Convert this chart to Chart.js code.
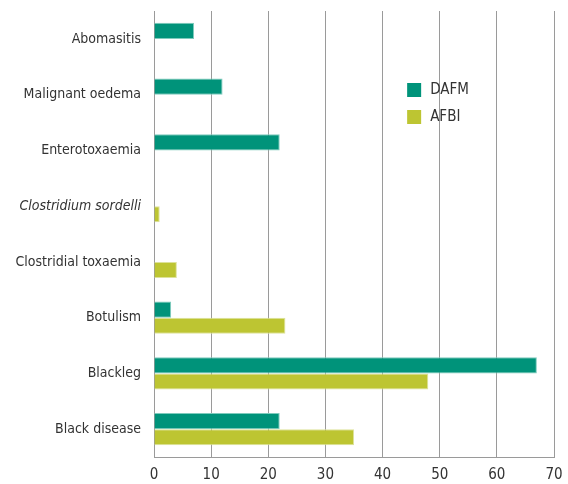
<!DOCTYPE html>
<html><head><meta charset="utf-8">
<script src="https://cdn.jsdelivr.net/npm/chart.js@4/dist/chart.umd.min.js"></script>
<style>html,body{margin:0;padding:0;background:#fff}canvas{display:block}</style>
</head><body>
<canvas id="c" width="568" height="484"></canvas>
<script>
const categories = ["Abomasitis","Malignant oedema","Enterotoxaemia","Clostridium sordelli","Clostridial toxaemia","Botulism","Blackleg","Black disease"];
const dafm = [7, 12, 22, null, null, 3, 67, 22];
const afbi = [null, null, null, 1, 4, 23, 48, 35];
const xTicks = [0,10,20,30,40,50,60,70];
const italicCats = ["Clostridium sordelli"];
const FONT = "'Liberation Sans Narrow','Arial Narrow','DejaVu Sans Condensed',sans-serif";

const legendPlugin = {
  id: 'insideLegend',
  afterDraw(chart) {
    const ctx = chart.ctx;
    const xs = chart.scales.x, ys = chart.scales.y;
    const x0 = xs.getPixelForValue(44.3);
    const y0 = ys.top + 79;
    ctx.save();
    ctx.font = "15px " + FONT;
    ctx.textBaseline = 'middle';
    chart.data.datasets.forEach((ds, i) => {
      const y = y0 + i * 27;
      ctx.fillStyle = ds.backgroundColor;
      ctx.fillRect(x0, y - 7, 14, 14);
      ctx.fillStyle = '#333';
      ctx.fillText(ds.label, x0 + 23, y);
    });
    ctx.restore();
  }
};

new Chart(document.getElementById('c'), {
  type: 'bar',
  data: {
    labels: categories,
    datasets: [
      {label: 'DAFM', data: dafm, backgroundColor: '#00937a', borderColor: '#7fcbbd', borderWidth: 1, borderSkipped: 'start'},
      {label: 'AFBI', data: afbi, backgroundColor: '#bdc532', borderColor: '#dde29a', borderWidth: 1, borderSkipped: 'start'}
    ]
  },
  options: {
    responsive: false,
    animation: false,
    indexAxis: 'y',
    layout: {padding: {top: 11, right: 14, left: 0, bottom: 0}},
    barPercentage: 1,
    categoryPercentage: 0.574,
    plugins: {legend: {display: false}, tooltip: {enabled: false}},
    scales: {
      x: {
        min: 0, max: 70,
        afterBuildTicks(s) { s.ticks = xTicks.map(v => ({value: v})); },
        grid: {color: '#9a9a9a', lineWidth: 1, drawTicks: false},
        border: {color: '#9a9a9a', width: 1},
        ticks: {color: '#333', font: {family: FONT, size: 15}, padding: 9},
        afterFit(s) { s.height = 27; s.paddingLeft = 0; s.paddingRight = 0; }
      },
      y: {
        grid: {display: false, drawTicks: false},
        border: {color: '#9a9a9a', width: 1},
        ticks: {
          color: '#333',
          padding: 13,
          font: (ctx) => ({family: FONT, size: 14, style: italicCats.includes(categories[ctx.index]) ? 'italic' : 'normal'})
        },
        afterFit(s) { s.width = 154; s.paddingTop = 0; s.paddingBottom = 0; }
      }
    }
  },
  plugins: [legendPlugin]
});
</script>
</body></html>
